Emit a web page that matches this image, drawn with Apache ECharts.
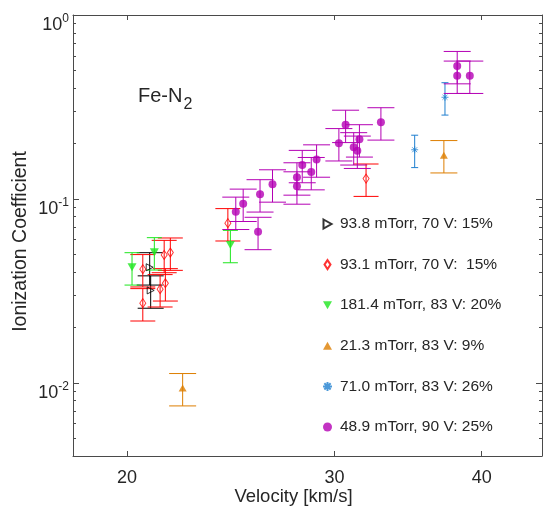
<!DOCTYPE html>
<html><head><meta charset="utf-8">
<script src="https://cdn.jsdelivr.net/npm/echarts@6/dist/echarts.min.js"></script>
<style>html,body{margin:0;padding:0;background:#fff}#c{width:545px;height:508px}</style>
</head><body><div id="c"></div>
<script>
// ---- data ----
const seriesNames = ['93.8 mTorr, 70 V: 15%', '93.1 mTorr, 70 V:  15%', '181.4 mTorr, 83 V: 20%', '21.3 mTorr, 83 V: 9%', '71.0 mTorr, 83 V: 26%', '48.9 mTorr, 90 V: 25%'];
const blackX = [20.91, 20.95];
const blackY = [0.0425, 0.0318];
const redX = [20.63, 21.51, 21.77, 20.63, 21.34, 21.56, 24.36, 31.91];
const redY = [0.0415, 0.0496, 0.0511, 0.0271, 0.0323, 0.0348, 0.0738, 0.129];
const greenX = [20.20, 21.10, 24.48];
const greenY = [0.0425, 0.0513, 0.0562];
const orangeX = [22.30, 37.15];
const orangeY = [0.00936, 0.173];
const blueX = [35.09, 37.23];
const blueY = [0.185, 0.357];
const magentaX = [38.13, 38.13, 39.08, 32.85, 30.66, 30.26, 31.50, 31.15, 31.37, 28.97, 28.17, 28.67, 27.88, 27.88, 26.58, 25.94, 25.10, 24.74, 25.84];
const magentaY = [0.528, 0.468, 0.468, 0.261, 0.253, 0.201, 0.211, 0.191, 0.183, 0.164, 0.153, 0.140, 0.131, 0.117, 0.120, 0.106, 0.0942, 0.0852, 0.0662];
// relative size of the error bars as drawn (lower, upper)
const blackErr = [0.2, 0.2];
const redErr = [0.2, 0.2];
const greenErr = [0.2, 0.2];
const orangeErr = [0.2, 0.2];
const blueErr = [0.2, 0.2];
const magentaErr = [0.2, 0.2];
// axes
const xMin = 18, xMax = 45;
const yMin = 0.004, yMax = 1;
const xTickLabels = [20, 30, 40];
const yTickExponents = [-2, -1, 0];

// ---- chart ----
const L10 = Math.log10;
const axisColor = '#4a4a4a';
const textColor = '#262626';
const FONT = 'Liberation Sans, Arial, Helvetica, sans-serif';

const yMinor = [];
for (let n = -3; n <= -1; n++) for (let k = 2; k <= 9; k++) {
  const v = k * Math.pow(10, n);
  if (v > yMin * 1.001 && v < yMax) yMinor.push(L10(v));
}

function errSeries(xs, ys, err, color, halfCap) {
  return {
    type: 'custom', xAxisIndex: 0, yAxisIndex: 0, silent: true, clip: true,
    data: xs.map((x, i) => [x, ys[i] * (1 - err[0]), ys[i] * (1 + err[1])]),
    encode: { x: 0, y: [1, 2] },
    renderItem: (params, api) => {
      const lo = api.coord([api.value(0), api.value(1)]);
      const hi = api.coord([api.value(0), api.value(2)]);
      const st = { stroke: color, lineWidth: 1, fill: null };
      return { type: 'group', children: [
        { type: 'line', shape: { x1: lo[0], y1: lo[1], x2: hi[0], y2: hi[1] }, style: st },
        { type: 'line', shape: { x1: lo[0] - halfCap, y1: lo[1], x2: lo[0] + halfCap, y2: lo[1] }, style: st },
        { type: 'line', shape: { x1: hi[0] - halfCap, y1: hi[1], x2: hi[0] + halfCap, y2: hi[1] }, style: st }
      ]};
    }
  };
}
function markSeries(name, xs, ys, symbol, size, itemStyle) {
  return { type: 'scatter', name: name, xAxisIndex: 0, yAxisIndex: 0,
    data: xs.map((x, i) => [x, ys[i]]), symbol: symbol, symbolSize: size,
    itemStyle: itemStyle, emphasis: { disabled: true } };
}

const cBlack = '#000000', cRed = '#ff0000', cGreen = '#1ee61e', cOrange = '#dd7e00', cBlue = '#1f7fcf', cMag = '#b400b4';
const symRight = 'path://M0,0L8,4.5L0,9Z';
const symDown = 'path://M0,0L10,0L5,9Z';
const symUp = 'path://M5,0L10,9L0,9Z';
const symDiamond = 'path://M3,0L6,4.5L3,9L0,4.5Z';
const symStar = 'path://M5,0L5,10M0,5L10,5M1.5,1.5L8.5,8.5M8.5,1.5L1.5,8.5';

const series = [
  errSeries(blackX, blackY, blackErr, cBlack, 13),
  markSeries(seriesNames[0], blackX, blackY, symRight, [7, 7], { color: 'rgba(255,255,255,0)', borderColor: cBlack, borderWidth: 1 }),
  errSeries(redX, redY, redErr, cRed, 12.5),
  markSeries(seriesNames[1], redX, redY, symDiamond, [6, 9], { color: 'rgba(255,255,255,0)', borderColor: cRed, borderWidth: 1 }),
  errSeries(greenX, greenY, greenErr, cGreen, 7.5),
  markSeries(seriesNames[2], greenX, greenY, symDown, [9, 8], { color: cGreen }),
  errSeries(orangeX, orangeY, orangeErr, cOrange, 13.5),
  markSeries(seriesNames[3], orangeX, orangeY, symUp, [8, 7], { color: cOrange }),
  errSeries(blueX, blueY, blueErr, cBlue, 3.5),
  markSeries(seriesNames[4], blueX, blueY, symStar, [7, 7], { color: 'rgba(255,255,255,0)', borderColor: cBlue, borderWidth: 1 }),
  errSeries(magentaX, magentaY, magentaErr, cMag, 13.5),
  markSeries(seriesNames[5], magentaX, magentaY, 'circle', 8, { color: cMag })
];
const legendIcons = [symRight, symDiamond, symDown, symUp, symStar, 'circle'];

const noShow = { show: false };
const option = {
  animation: false,
  backgroundColor: '#ffffff',
  textStyle: { fontFamily: FONT },
  grid: { left: 73, right: 3, top: 15, bottom: 52, containLabel: false, outerBoundsMode: 'none' },
  xAxis: [
    { type: 'log', logBase: 10, min: xMin, max: xMax, position: 'bottom',
      axisLine: { show: true, onZero: false, lineStyle: { color: axisColor, width: 1 } },
      axisTick: noShow, axisLabel: noShow, splitLine: noShow, minorTick: noShow,
      name: 'Velocity [km/s]', nameLocation: 'middle', nameGap: 31,
      nameTextStyle: { fontSize: 18.5, color: textColor, fontFamily: FONT, padding: [0, 28, 0, 0] } },
    { type: 'value', min: L10(xMin), max: L10(xMax), position: 'bottom',
      axisLine: { show: false, onZero: false },
      axisTick: { show: true, inside: true, length: 5, customValues: xTickLabels.map(L10), lineStyle: { color: axisColor } },
      axisLabel: { show: true, customValues: xTickLabels.map(L10), margin: 13, fontSize: 18, color: textColor, fontFamily: FONT,
        formatter: v => String(Math.round(Math.pow(10, v))) },
      splitLine: noShow },
    { type: 'value', min: L10(xMin), max: L10(xMax), position: 'top',
      axisLine: { show: true, onZero: false, lineStyle: { color: axisColor, width: 1 } },
      axisTick: { show: true, inside: true, length: 5, customValues: xTickLabels.map(L10), lineStyle: { color: axisColor } },
      axisLabel: noShow, splitLine: noShow }
  ],
  yAxis: [
    { type: 'log', logBase: 10, min: yMin, max: yMax, position: 'left',
      axisLine: { show: true, onZero: false, lineStyle: { color: axisColor, width: 1 } },
      axisTick: noShow, axisLabel: noShow, splitLine: noShow, minorTick: noShow,
      name: 'Ionization Coefficient', nameLocation: 'middle', nameGap: 42,
      nameTextStyle: { fontSize: 19.5, color: textColor, fontFamily: FONT, padding: [0, 12, 0, 0] } },
    { type: 'value', min: L10(yMin), max: L10(yMax), position: 'left',
      axisLine: { show: false, onZero: false },
      axisTick: { show: true, inside: true, length: 6, customValues: yTickExponents, lineStyle: { color: axisColor } },
      axisLabel: { show: true, customValues: yTickExponents, margin: 4, color: textColor, fontFamily: FONT,
        formatter: v => '{b|10}{s|' + Math.round(v) + '}',
        rich: {
          b: { fontSize: 18, lineHeight: 18, padding: [10, 0, 0, 0], verticalAlign: 'top', color: textColor, fontFamily: FONT },
          s: { fontSize: 12, lineHeight: 12, padding: [7, 0, 0, 0], verticalAlign: 'top', color: textColor, fontFamily: FONT }
        } },
      splitLine: noShow },
    { type: 'value', min: L10(yMin), max: L10(yMax), position: 'left',
      axisLine: { show: false, onZero: false },
      axisTick: { show: true, inside: true, length: 3, customValues: yMinor, lineStyle: { color: axisColor } },
      axisLabel: noShow, splitLine: noShow },
    { type: 'value', min: L10(yMin), max: L10(yMax), position: 'right',
      axisLine: { show: true, onZero: false, lineStyle: { color: axisColor, width: 1 } },
      axisTick: { show: true, inside: true, length: 6, customValues: yTickExponents, lineStyle: { color: axisColor } },
      axisLabel: noShow, splitLine: noShow },
    { type: 'value', min: L10(yMin), max: L10(yMax), position: 'right',
      axisLine: { show: false, onZero: false },
      axisTick: { show: true, inside: true, length: 3, customValues: yMinor, lineStyle: { color: axisColor } },
      axisLabel: noShow, splitLine: noShow }
  ],
  legend: {
    data: seriesNames.map((n, i) => ({ name: n, icon: legendIcons[i] })),
    orient: 'vertical', left: 322, top: 216, padding: 0,
    itemWidth: 9, itemHeight: 9, itemGap: 24.6, selectedMode: false, symbolKeepAspect: true,
    textStyle: { fontSize: 15.5, lineHeight: 16, color: textColor, fontFamily: FONT, padding: [0, 0, 0, 3] }
  },
  graphic: [
    { type: 'text', left: 138, top: 86, silent: true,
      style: { text: '{a|Fe-N}{b|2}', rich: {
        a: { fontSize: 20, lineHeight: 20, verticalAlign: 'top', fill: textColor, fontFamily: FONT },
        b: { fontSize: 16, lineHeight: 16, padding: [11, 0, 0, 1], verticalAlign: 'top', fill: textColor, fontFamily: FONT } } } }
  ],
  series: series
};
const chart = echarts.init(document.getElementById('c'), null, { renderer: 'canvas' });
chart.setOption(option);
</script></body></html>
